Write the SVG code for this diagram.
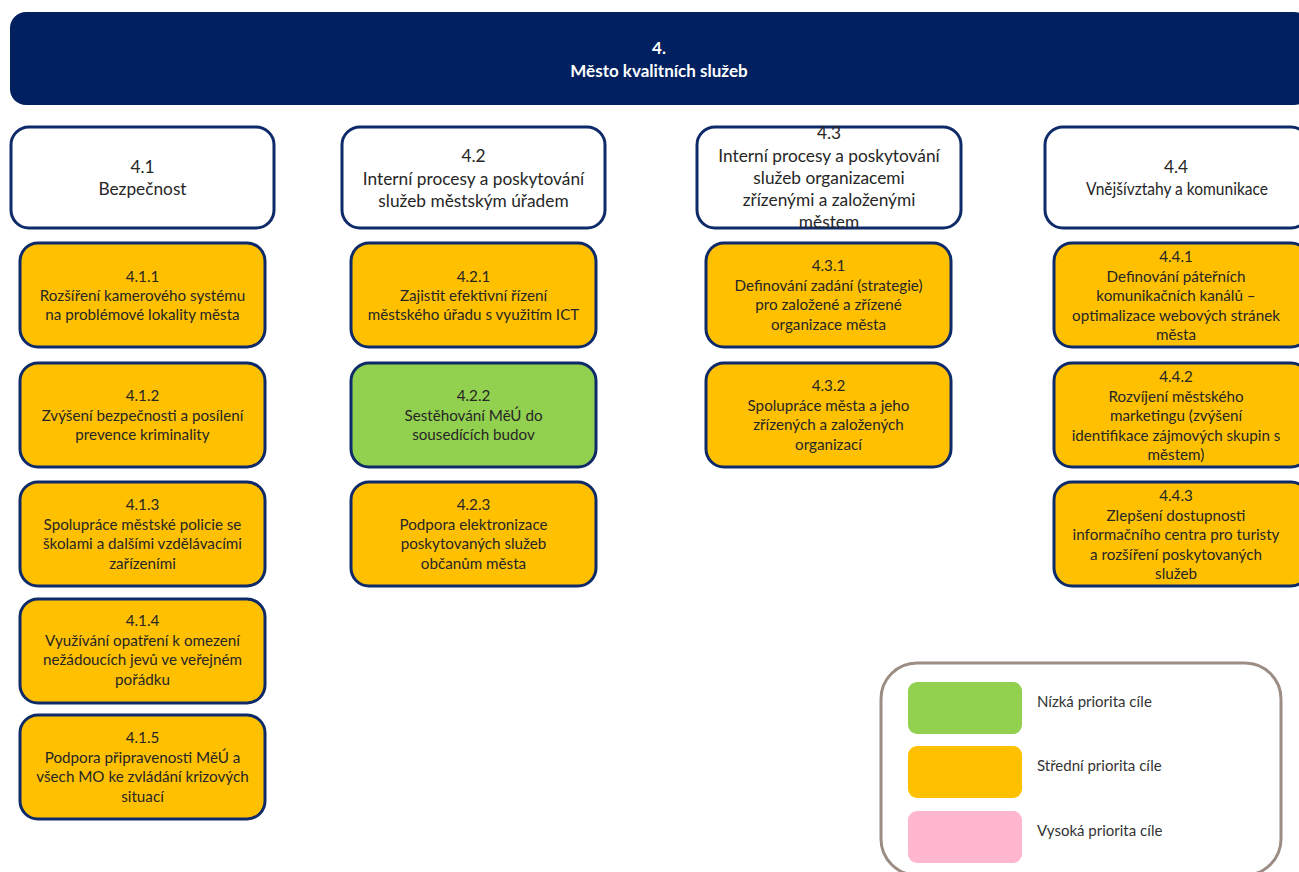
<svg xmlns="http://www.w3.org/2000/svg" width="1299" height="872" viewBox="0 0 1299 872">
<style>
.hdr{fill:#00205F}
.l2{fill:#FFFFFF;stroke:#0E2A68;stroke-width:3}
.l3{fill:#FFC000;stroke:#0E2A68;stroke-width:3}
.low{fill:#92D050;stroke:#0E2A68;stroke-width:3}
.t2{font-family:Lato,"Liberation Sans",sans-serif;font-size:17.3px;fill:#262626;text-anchor:middle}
.t3{font-family:Lato,"Liberation Sans",sans-serif;font-size:15.2px;fill:#262626;text-anchor:middle}
.th{font-family:Lato,"Liberation Sans",sans-serif;font-size:17px;font-weight:bold;fill:#FFFFFF;text-anchor:middle}
.lt{font-family:Lato,"Liberation Sans",sans-serif;font-size:15px;fill:#333333}
</style>
<rect width="1299" height="872" fill="#FFFFFF"/>
<g id="n4">
<rect class="hdr" x="10" y="12" width="1300" height="93" rx="16"/>
<text class="th" x="659" y="54">4.</text>
<text class="th" x="659" y="77">Město kvalitních služeb</text>
</g>
<g id="connectors"></g>
<g id="n4_1">
<rect class="l2" x="11" y="127" width="263" height="101" rx="18"/>
<text class="t2" x="142.5" y="173">4.1</text>
<text class="t2" x="142.5" y="195">Bezpečnost</text>
</g>
<g id="n4_2">
<rect class="l2" x="342" y="127" width="263" height="101" rx="18"/>
<text class="t2" x="473.5" y="162">4.2</text>
<text class="t2" x="473.5" y="185">Interní procesy a poskytování</text>
<text class="t2" x="473.5" y="207">služeb městským úřadem</text>
</g>
<g id="n4_3">
<rect class="l2" x="697" y="127" width="264" height="101" rx="18"/>
<text class="t2" x="829" y="139">4.3</text>
<text class="t2" x="829" y="162">Interní procesy a poskytování</text>
<text class="t2" x="829" y="184">služeb organizacemi</text>
<text class="t2" x="829" y="206">zřízenými a založenými</text>
<text class="t2" x="829" y="228">městem</text>
</g>
<g id="n4_4">
<rect class="l2" x="1045" y="127" width="264" height="101" rx="18"/>
<text class="t2" x="1176" y="173">4.4</text>
<text class="t2" x="1177" y="195" textLength="182" lengthAdjust="spacingAndGlyphs">Vnějšívztahy a komunikace</text>
</g>
<g id="n4_1_1">
<rect class="l3" x="20" y="243" width="245" height="104" rx="18"/>
<text class="t3" x="142.5" y="282">4.1.1</text>
<text class="t3" x="142.5" y="301">Rozšíření kamerového systému</text>
<text class="t3" x="142.5" y="320">na problémové lokality města</text>
</g>
<g id="n4_1_2">
<rect class="l3" x="20" y="363" width="245" height="104" rx="18"/>
<text class="t3" x="142.5" y="401">4.1.2</text>
<text class="t3" x="142.5" y="420.5">Zvýšení bezpečnosti a posílení</text>
<text class="t3" x="142.5" y="440">prevence kriminality</text>
</g>
<g id="n4_1_3">
<rect class="l3" x="20" y="482" width="245" height="104" rx="18"/>
<text class="t3" x="142.5" y="510">4.1.3</text>
<text class="t3" x="142.5" y="529.5">Spolupráce městské policie se</text>
<text class="t3" x="142.5" y="549">školami a dalšími vzdělávacími</text>
<text class="t3" x="142.5" y="568.5">zařízeními</text>
</g>
<g id="n4_1_4">
<rect class="l3" x="20" y="599" width="245" height="104" rx="18"/>
<text class="t3" x="142.5" y="626">4.1.4</text>
<text class="t3" x="142.5" y="645.5">Využívání opatření k omezení</text>
<text class="t3" x="142.5" y="665">nežádoucích jevů ve veřejném</text>
<text class="t3" x="142.5" y="684.5">pořádku</text>
</g>
<g id="n4_1_5">
<rect class="l3" x="20" y="715" width="245" height="104" rx="18"/>
<text class="t3" x="142.5" y="743">4.1.5</text>
<text class="t3" x="142.5" y="762.5">Podpora připravenosti MěÚ a</text>
<text class="t3" x="142.5" y="782">všech MO ke zvládání krizových</text>
<text class="t3" x="142.5" y="801.5">situací</text>
</g>
<g id="n4_2_1">
<rect class="l3" x="351" y="243" width="245" height="104" rx="18"/>
<text class="t3" x="473.5" y="282">4.2.1</text>
<text class="t3" x="473.5" y="301">Zajistit efektivní řízení</text>
<text class="t3" x="473.5" y="320">městského úřadu s využitím ICT</text>
</g>
<g id="n4_2_2">
<rect class="low" x="351" y="363" width="245" height="104" rx="18"/>
<text class="t3" x="473.5" y="401">4.2.2</text>
<text class="t3" x="473.5" y="420.5">Sestěhování MěÚ do</text>
<text class="t3" x="473.5" y="440">sousedících budov</text>
</g>
<g id="n4_2_3">
<rect class="l3" x="351" y="482" width="245" height="104" rx="18"/>
<text class="t3" x="473.5" y="510">4.2.3</text>
<text class="t3" x="473.5" y="529.5">Podpora elektronizace</text>
<text class="t3" x="473.5" y="549">poskytovaných služeb</text>
<text class="t3" x="473.5" y="568.5">občanům města</text>
</g>
<g id="n4_3_1">
<rect class="l3" x="706" y="243" width="245" height="104" rx="18"/>
<text class="t3" x="828.5" y="271">4.3.1</text>
<text class="t3" x="828.5" y="290.5">Definování zadání (strategie)</text>
<text class="t3" x="828.5" y="310">pro založené a zřízené</text>
<text class="t3" x="828.5" y="329.5">organizace města</text>
</g>
<g id="n4_3_2">
<rect class="l3" x="706" y="363" width="245" height="104" rx="18"/>
<text class="t3" x="828.5" y="391">4.3.2</text>
<text class="t3" x="828.5" y="410.5">Spolupráce města a jeho</text>
<text class="t3" x="828.5" y="430">zřízených a založených</text>
<text class="t3" x="828.5" y="449.5">organizací</text>
</g>
<g id="n4_4_1">
<rect class="l3" x="1054" y="243" width="255" height="104" rx="18"/>
<text class="t3" x="1176" y="262">4.4.1</text>
<text class="t3" x="1176" y="281.5">Definování páteřních</text>
<text class="t3" x="1176" y="301">komunikačních kanálů –</text>
<text class="t3" x="1176" y="320.5">optimalizace webových stránek</text>
<text class="t3" x="1176" y="340">města</text>
</g>
<g id="n4_4_2">
<rect class="l3" x="1054" y="363" width="255" height="104" rx="18"/>
<text class="t3" x="1176" y="382">4.4.2</text>
<text class="t3" x="1176" y="401.5">Rozvíjení městského</text>
<text class="t3" x="1176" y="421">marketingu (zvýšení</text>
<text class="t3" x="1176" y="440.5">identifikace zájmových skupin s</text>
<text class="t3" x="1176" y="460">městem)</text>
</g>
<g id="n4_4_3">
<rect class="l3" x="1054" y="482" width="255" height="104" rx="18"/>
<text class="t3" x="1176" y="501">4.4.3</text>
<text class="t3" x="1176" y="520.5">Zlepšení dostupnosti</text>
<text class="t3" x="1176" y="540">informačního centra pro turisty</text>
<text class="t3" x="1176" y="559.5">a rozšíření poskytovaných</text>
<text class="t3" x="1176" y="579">služeb</text>
</g>
<g id="legend">
<rect x="881" y="663" width="400" height="212" rx="36" fill="#FFFFFF" stroke="#9C8C84" stroke-width="3"/>
<rect x="908" y="682" width="114" height="52" rx="9" fill="#92D050"/>
<rect x="908" y="746" width="114" height="52" rx="9" fill="#FFC000"/>
<rect x="908" y="811" width="114" height="52" rx="9" fill="#FFB6CF"/>
<text class="lt" x="1037" y="707">Nízká priorita cíle</text>
<text class="lt" x="1037" y="771">Střední priorita cíle</text>
<text class="lt" x="1037" y="836">Vysoká priorita cíle</text>
</g>
</svg>
